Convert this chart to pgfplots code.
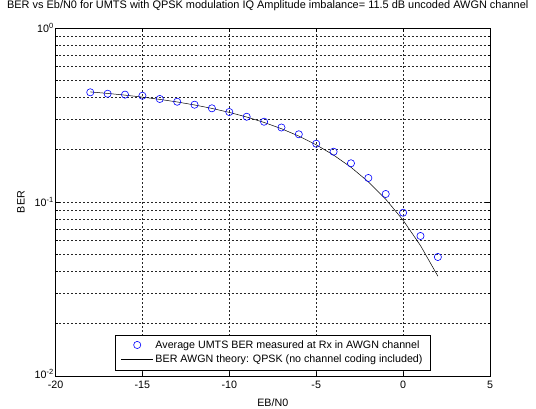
\documentclass[border=0pt]{standalone}
\usepackage{fontspec}
\setmainfont{Liberation Sans}
\usepackage{pgfplots}
\pgfplotsset{compat=1.18}
\pgfplotsset{
  lineleg/.style={legend image code/.code={\draw[##1] (0pt,0pt) -- (32pt,0pt);}},
  markleg/.style={legend image code/.code={\draw[##1] plot coordinates {(16pt,0pt)};}},
}
\begin{document}
\begin{tikzpicture}
\path[use as bounding box] (-55.5pt,-32pt) rectangle (480.5pt,376pt);
\begin{semilogyaxis}[
  scale only axis, width=434.5pt, height=348pt,
  at={(0pt,0pt)}, anchor=south west,
  xmin=-20, xmax=5, ymin=0.01, ymax=1,
  xtick={-20,-15,...,5},
  ytick={0.01,0.1,1},
  yticklabels={\raisebox{4pt}{10\textsuperscript{-2}},10\textsuperscript{-1},10\textsuperscript{0}},
  minor ytick={0.02,0.03,0.04,0.05,0.06,0.07,0.08,0.09,0.2,0.3,0.4,0.5,0.6,0.7,0.8,0.9},
  xmajorgrids, ymajorgrids, yminorgrids,
  major grid style={black!85, dash pattern=on 2pt off 2pt, line width=0.45pt},
  minor grid style={black!85, dash pattern=on 2pt off 2pt, line width=0.45pt},
  axis line style={black, line width=0.5pt},
  tick style={black, line width=0.5pt},
  tick align=inside,
  major tick length=4.5pt, minor tick length=2.5pt,
  /pgf/number format/assume math mode=true,
  tick label style={font=\fontsize{10.7}{12}\selectfont},
  xticklabel style={anchor=base, yshift=-12.3pt},
  yticklabel style={inner sep=0pt, xshift=-1.5pt},
  title={BER vs Eb/N0 for UMTS with QPSK modulation IQ Amplitude imbalance= 11.5 dB uncoded AWGN channel},
  title style={at={(axis description cs:0.5,1)}, anchor=base, yshift=14pt, xshift=-5pt, inner xsep=0pt, font=\fontsize{10.95}{13}\selectfont},
  xlabel={EB/N0},
  xlabel style={at={(axis description cs:0.5,-0.0862)}, anchor=base, font=\fontsize{10.7}{12}\selectfont},
  ylabel={BER},
  ylabel style={at={(axis description cs:-0.0794,0.5)}, anchor=center, font=\fontsize{10.7}{12}\selectfont},
  legend style={at={(axis description cs:0.5,0.017)}, anchor=south, draw=black, line width=0.5pt,
    font=\fontsize{10.7}{12}\selectfont, cells={anchor=west}, inner xsep=6pt, inner ysep=3.5pt,
    row sep=1.5pt},
]
\addplot[only marks, mark=o, mark size=3.6pt, color={rgb,255:red,0;green,0;blue,255}, mark options={line width=0.6pt}, markleg]
  coordinates {
  (-18,0.427) (-17,0.419) (-16,0.414) (-15,0.408) (-14,0.391) (-13,0.377)
  (-12,0.3624) (-11,0.3455) (-10,0.329) (-9,0.309) (-8,0.2893) (-7,0.268)
  (-6,0.245) (-5,0.2163) (-4,0.1946) (-3,0.1669) (-2,0.1374) (-1,0.1112)
  (0,0.0868) (1,0.0638) (2,0.0483)
  };
\addlegendentry{Average UMTS BER measured at Rx in AWGN channel}
\addplot[black, line width=0.5pt, no marks, lineleg]
  coordinates {
  (-18,0.4293) (-17,0.4208) (-16,0.4113) (-15,0.4007) (-14,0.3889) (-13,0.3758)
  (-12,0.3612) (-11,0.3451) (-10,0.3274) (-9,0.3079) (-8,0.2867) (-7,0.2638)
  (-6,0.2392) (-5,0.2132) (-4,0.1861) (-3,0.1584) (-2,0.1306) (-1,0.1038)
  (0,0.0786) (1,0.0562) (2,0.0375)
  };
\addlegendentry{BER AWGN theory: QPSK (no channel coding included)}
\end{semilogyaxis}
\end{tikzpicture}
\end{document}
